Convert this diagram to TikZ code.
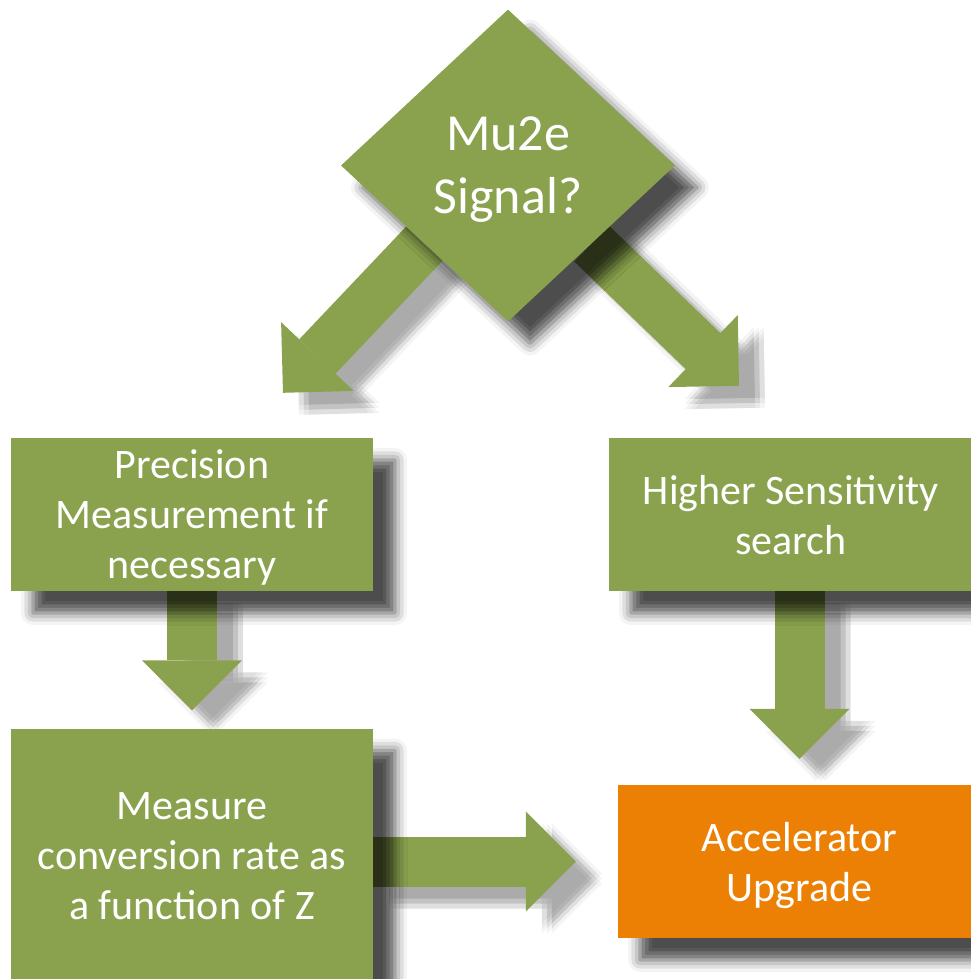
\documentclass[tikz,border=0pt]{standalone}
\usepackage{fontspec}
\setmainfont{Carlito}
\usetikzlibrary{arrows.meta,positioning,shapes.geometric,shadows,shadows.blur}
\definecolor{mugreen}{RGB}{138,162,78}
\definecolor{muorange}{RGB}{236,128,5}
\pgfdeclarelayer{back}
\pgfsetlayers{back,main}
\tikzset{
	x=1pt, y=-1pt,
	on grid,
	every node/.style={text=white, align=center, inner sep=0pt, text depth=0pt},
	softshadow/.style={blur shadow={shadow xshift=22pt, shadow yshift=-22pt,
		shadow blur radius=12pt, shadow opacity=70}},
	question/.style={diamond, aspect=1.07, fill=mugreen, minimum width=334pt,
		minimum height=312pt, font=\fontsize{52}{63}\selectfont, softshadow},
	stepbox/.style={rectangle, fill=mugreen, minimum width=362pt,
		minimum height=153pt, font=\fontsize{42}{50}\selectfont, softshadow},
	goal/.style={stepbox, fill=muorange},
	flow/.style={line width=50pt, draw=mugreen,
		-{Triangle[length=50pt, width=100pt, line width=0pt]}}, % block arrow
	flowshadow/.style={flow, draw=black},
}
\begin{document}
\begin{tikzpicture}
	\useasboundingbox (0,0) rectangle (970,979);

	\node[question] (sig) at (508,165.5) {Mu2e\\Signal?};
	\node[stepbox] (pm) at (192,514.5) {Precision\\Measurement if\\necessary};
	\node[stepbox, minimum width=364pt, right=599pt of pm] (hs) {Higher Sensitivity\\search};
	\node[stepbox, minimum height=255pt, below=341.5pt of pm] (mc) {Measure\\conversion rate as\\a function of Z};
	\node[goal, minimum width=363pt] (au) at (799.5,861.5) {Accelerator\\Upgrade};

	% arrow tips
	\coordinate (lt) at ([xshift=91pt,yshift=45pt]pm.north);
	\coordinate (rt) at ([xshift=-52pt,yshift=52pt]hs.north);
	\coordinate (pt) at ([yshift=18pt]mc.north);
	\coordinate (ht) at ([yshift=26pt]au.north);
	\coordinate (mt) at ([xshift=-42pt]au.west);

	\begin{pgfonlayer}{back}
		% soft shadows: several faint copies
		\foreach \dx in {16,21,26}{
		\foreach \dy in {-12,-17,-22}{
		\begin{scope}[transform canvas={shift={(\dx pt,\dy pt)}}]
			\begin{scope}[transparency group, opacity=.045]
				\foreach \from/\to in {sig.south west/lt, sig.south east/rt, pm.south/pt,
					hs.south -| au.north/ht, mc.east |- au.west/mt}
					\draw[flowshadow] (\from) -- (\to);
			\end{scope}
		\end{scope}
		}}
		\foreach \from/\to in {sig.south west/lt, sig.south east/rt, pm.south/pt,
			hs.south -| au.north/ht, mc.east |- au.west/mt}
			\draw[flow] (\from) -- (\to);
	\end{pgfonlayer}
\end{tikzpicture}
\end{document}
